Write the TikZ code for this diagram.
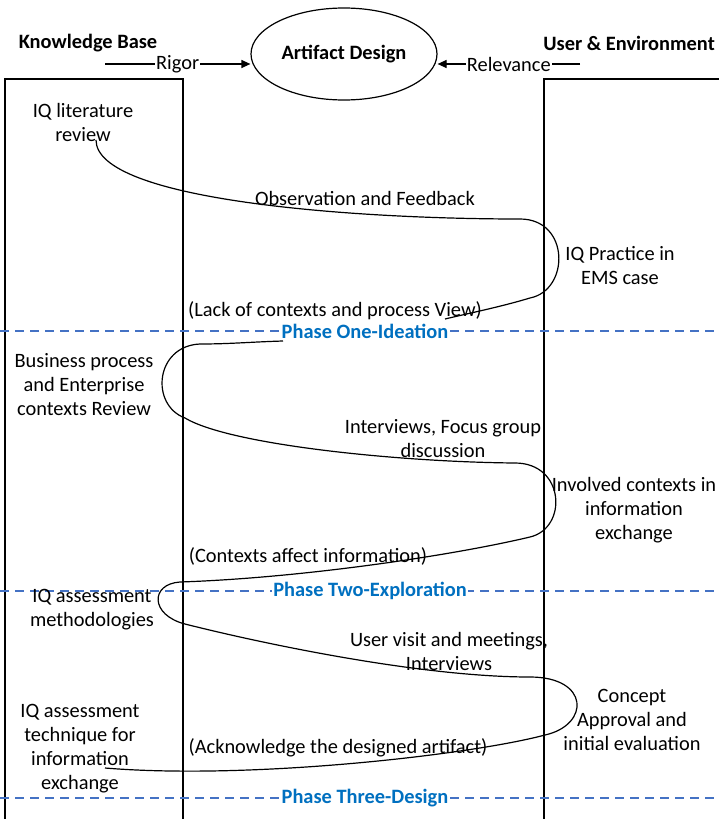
\documentclass[tikz,border=0pt]{standalone}
\usepackage{fontspec}
\setmainfont{Carlito}
\usetikzlibrary{arrows.meta,shapes.geometric}
\definecolor{phasetxt}{RGB}{0,112,192}
\definecolor{phaseline}{RGB}{68,114,196}
\tikzset{
  txt/.style={align=center,font=\fontsize{20.4}{24}\selectfont,inner sep=0pt},
  hdr/.style={font=\bfseries\fontsize{20.4}{24}\selectfont,inner sep=0pt},
  phase/.style={font=\bfseries\fontsize{20.4}{24}\selectfont,text=phasetxt,fill=white,inner sep=1pt},
  dividerline/.style={draw=phaseline,line width=1.1pt,dash pattern=on 9pt off 6pt},
  boxline/.style={draw=black,line width=1.2pt},
  spiral/.style={draw=black,line width=1.2pt},
  arr/.style={draw=black,line width=1.2pt,-{Triangle[length=9pt,width=8pt]}}
}
\begin{document}
\begin{tikzpicture}[x=1pt,y=-1pt]
\useasboundingbox (0,0) rectangle (719,819);
\clip (0,0) rectangle (719,819);
\fill[white] (0,0) rectangle (719,819);
% columns
\draw[boxline] (5,830) -- (5,79) -- (183,79) -- (183,830);
\draw[boxline] (544,830) -- (544,79) -- (730,79);
% headers
\node[hdr] (kb) at (88,43) {Knowledge Base};
\node[hdr,anchor=east] (ue) at (715,43) {User \& Environment};
\node[draw,ellipse,line width=1.2pt,minimum width=186pt,minimum height=92pt,inner sep=0pt] (ad) at (344,54) {};
\node[hdr] (adt) at (344,54) {Artifact Design};
\coordinate (rs) at (105,64);
\coordinate (re) at (580,64);
\draw[arr] (rs) -- node[txt,fill=white,inner xsep=1pt] (rig) {Rigor} (ad.west |- rs);
\draw[arr] (re) -- node[txt,fill=white,inner xsep=1pt] (rel) {Relevance} (ad.east |- re);
% dividers
\draw[dividerline] (0,331) -- (719,331);
\draw[dividerline] (0,591) -- (719,591);
\draw[dividerline] (0,798) -- (719,798);
% spiral path
\coordinate (s0) at (96,140);
\coordinate (s1) at (520,219);
\coordinate (s2) at (530,298);
\coordinate (s3) at (445,319);
\draw[spiral] (s0) .. controls (96,200) and (350,219) .. (s1)
  .. controls (570,219) and (570,290) .. (s2)
  .. controls (500,307) and (470,313) .. (s3);
\coordinate (t0) at (283,341);
\draw[spiral] (t0) .. controls (250,342) and (230,344) .. (200,344)
  .. controls (155,346) and (150,405) .. (185,418)
  .. controls (230,445) and (400,462) .. (515,463)
  .. controls (565,463) and (568,528) .. (530,537)
  .. controls (450,556) and (300,578) .. (180,582)
  .. controls (150,584) and (150,615) .. (185,624)
  .. controls (260,643) and (420,677) .. (530,677)
  .. controls (590,677) and (590,725) .. (545,735)
  .. controls (470,755) and (250,780) .. (105,768);
% phase labels
\node[phase] (p1) at (365,331) {Phase One-Ideation};
\node[phase] (p2) at (370,591) {Phase Two-Exploration};
\node[phase] (p3) at (365,798) {Phase Three-Design};
% texts
\node[txt] (n1) at (83,122) {IQ literature\\review};
\node[txt] (n2) at (365,198) {Observation and Feedback};
\node[txt] (n3) at (620,266) {IQ Practice in\\EMS case};
\node[txt] (n4) at (335,311) {(Lack of contexts and process View)};
\node[txt] (n5) at (84,385) {Business process\\and Enterprise\\contexts Review};
\node[txt] (n6) at (443,439) {Interviews, Focus group\\discussion};
\node[txt] (n7) at (634,510) {Involved contexts in\\information\\exchange};
\node[txt] (n8) at (308,556) {(Contexts affect information)};
\node[txt] (n9) at (92,610) {IQ assessment\\methodologies};
\node[txt] (n10) at (449,651) {User visit and meetings,\\Interviews};
\node[txt] (n11) at (632,720) {Concept\\Approval and\\initial evaluation};
\node[txt] (n12) at (80,749) {IQ assessment\\technique for\\information\\exchange};
\node[txt] (n13) at (338,748) {(Acknowledge the designed artifact)};
\end{tikzpicture}
\end{document}
